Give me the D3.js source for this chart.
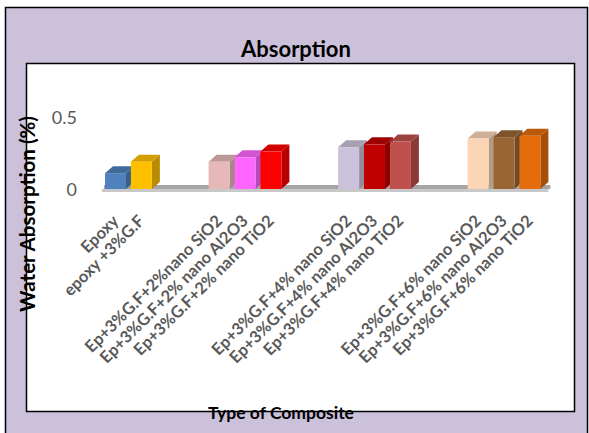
<!DOCTYPE html>
<meta charset="utf-8">
<style>
body { margin: 0; background: #fff; }
text { font-family: Lato, "Open Sans", sans-serif; }
</style>
<body>
<svg width="589" height="433"></svg>
<script src="https://d3js.org/d3.v7.min.js"></script>
<script>
// chart data
var categories = ["Epoxy", "epoxy +3%G.F",
  "Ep+3%G.F+2%nano SiO2", "Ep+3%G.F+2% nano Al2O3", "Ep+3%G.F+2% nano TiO2",
  "Ep+3%G.F+4% nano SiO2", "Ep+3%G.F+4% nano Al2O3", "Ep+3%G.F+4% nano TiO2",
  "Ep+3%G.F+6% nano SiO2", "Ep+3%G.F+6% nano Al2O3", "Ep+3%G.F+6% nano TiO2"];
var groups = [0, 0, 1, 1, 1, 2, 2, 2, 3, 3, 3];
var values = [0.11, 0.19, 0.19, 0.22, 0.26, 0.29, 0.31, 0.33, 0.35, 0.36, 0.37];
var colors = ["#4f81bd", "#ffc000", "#e6b9b8", "#ff66ff", "#ff0000",
  "#ccc1da", "#c00000", "#c0504d", "#fcd5b5", "#996633", "#e46c0a"];
var yTicks = [0, 0.5];

var svg = d3.select("svg");

// outer frame + plot box
svg.append("rect")
    .attr("x", 5.5).attr("y", 7.5).attr("width", 582).attr("height", 440)
    .attr("fill", "#ccc1da").attr("stroke", "#000").attr("stroke-width", 1.5);
svg.append("rect")
    .attr("x", 26.5).attr("y", 63.5).attr("width", 548).attr("height", 348)
    .attr("fill", "#fff").attr("stroke", "#000").attr("stroke-width", 1.5);

var data = categories.map(function(c, i) {
  return {name: c, value: values[i], color: colors[i], slot: i + 2 * groups[i]};
});

var x = d3.scaleBand().domain(d3.range(17)).range([105, 540.4])
    .paddingInner(0.19).paddingOuter(0);
var y = d3.scaleLinear().domain([0, 0.5]).range([189, 117]);
var bw = x.bandwidth(), dx = 8, dy = -7;

// floor
var fx0 = x(0) - 3, fx1 = x(16) + bw + dx;
svg.append("rect").attr("x", fx0 + 2).attr("y", y(0) - 4)
    .attr("width", fx1 - fx0).attr("height", 4).attr("fill", "#a6a6a6");
svg.append("rect").attr("x", fx0).attr("y", y(0))
    .attr("width", fx1 - fx0).attr("height", 3).attr("fill", "#c8c8c8");

// y axis
var yAxis = svg.append("g")
    .attr("transform", "translate(77,1)")
    .call(d3.axisLeft(y).tickValues(yTicks).tickSize(0).tickPadding(0)
      .tickFormat(d3.format("")));
yAxis.select(".domain").remove();
yAxis.selectAll("text").attr("fill", "#595959")
    .style("font-size", "18px").style("font-family", "Lato, sans-serif");

// 3d bars
var bars = svg.selectAll(".bar").data(data).enter().append("g").attr("class", "bar");
bars.append("path")
    .attr("fill", function(d) { return d3.color(d.color).darker(0.9); })
    .attr("d", function(d) {
      var x0 = x(d.slot) + bw, yt = y(d.value), yb = y(0);
      return "M" + x0 + "," + yt + "L" + (x0 + dx) + "," + (yt + dy) +
        "L" + (x0 + dx) + "," + (yb + dy) + "L" + x0 + "," + yb + "Z";
    });
bars.append("path")
    .attr("fill", function(d) { return d3.color(d.color).darker(0.55); })
    .attr("d", function(d) {
      var x0 = x(d.slot), yt = y(d.value);
      return "M" + x0 + "," + yt + "L" + (x0 + dx) + "," + (yt + dy) +
        "L" + (x0 + bw + dx) + "," + (yt + dy) + "L" + (x0 + bw) + "," + yt + "Z";
    });
bars.append("rect")
    .attr("x", function(d) { return x(d.slot); })
    .attr("y", function(d) { return y(d.value); })
    .attr("width", bw)
    .attr("height", function(d) { return y(0) - y(d.value); })
    .attr("fill", function(d) { return d.color; });

// category labels
svg.selectAll(".lbl").data(data).enter().append("text")
    .attr("class", "lbl")
    .attr("transform", function(d) {
      return "translate(" + (x(d.slot) + bw / 2) + ",218) rotate(-45)";
    })
    .attr("text-anchor", "end")
    .attr("dy", "0.35em")
    .attr("fill", "#595959")
    .style("font-size", "16.5px").style("font-weight", "bold")
    .text(function(d) { return d.name; });

// titles
svg.append("text").attr("x", 296).attr("y", 57).attr("text-anchor", "middle")
    .style("font-size", "22px").style("font-weight", "bold").text("Absorption");
svg.append("text").attr("x", 281).attr("y", 419).attr("text-anchor", "middle")
    .style("font-size", "17.5px").style("font-weight", "bold").text("Type of Composite");
svg.append("text").attr("transform", "translate(35,214) rotate(-90)")
    .attr("text-anchor", "middle")
    .style("font-size", "20.5px").style("font-weight", "bold")
    .text("Water Absorption  (%)");
</script>
</body>
